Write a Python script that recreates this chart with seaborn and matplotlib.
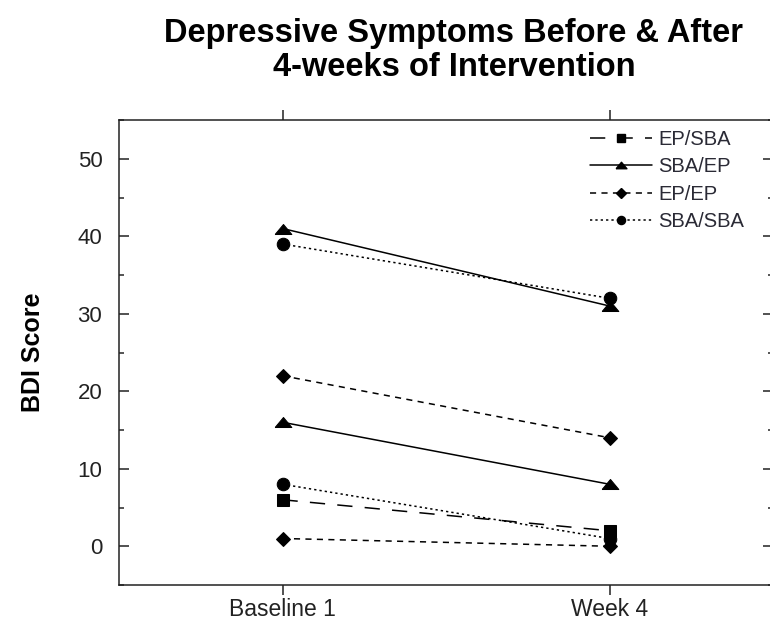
import matplotlib
matplotlib.use("Agg")
import matplotlib.pyplot as plt
from matplotlib.lines import Line2D
from matplotlib.ticker import MultipleLocator
import seaborn as sns
import pandas as pd

# ---- data ----
times = ["Baseline 1", "Week 4"]
groups = ["EP/SBA", "SBA/EP", "EP/EP", "SBA/SBA"]
ep_sba = [[6, 2]]
sba_ep = [[41, 31], [16, 8]]
ep_ep = [[22, 14], [1, 0]]
sba_sba = [[39, 32], [8, 1]]

series = {"EP/SBA": ep_sba, "SBA/EP": sba_ep, "EP/EP": ep_ep, "SBA/SBA": sba_sba}
rows = []
for g, subjects in series.items():
    for i, vals in enumerate(subjects):
        for t, v in enumerate(vals):
            rows.append({"group": g, "subject": f"{g}-{i}", "t": t, "score": v})
df = pd.DataFrame(rows)

sns.set_style("ticks")
plt.rcParams["font.family"] = ["Liberation Sans", "DejaVu Sans"]

tri = [(-1, -0.6), (1, -0.6), (0, 0.6), (-1, -0.6)]
styles = {
    "EP/SBA": dict(marker="s", markersize=9, linestyle=(0, (10, 8))),
    "SBA/EP": dict(marker=tri, markersize=12, linestyle="-"),
    "EP/EP": dict(marker="D", markersize=7.5, linestyle=(0, (4, 3.5))),
    "SBA/SBA": dict(marker="o", markersize=9, linestyle=(0, (1.5, 2))),
}

fig = plt.figure(figsize=(7.7, 6.2), dpi=100)
ax = fig.add_axes([119 / 770, 35 / 620, 654 / 770, 465 / 620])

for g in groups:
    st = styles[g]
    sns.lineplot(data=df[df.group == g], x="t", y="score", units="subject",
                 estimator=None, color="black", lw=1.1, ax=ax, legend=False,
                 marker=st["marker"], markersize=st["markersize"],
                 linestyle=st["linestyle"], markeredgecolor="black",
                 markerfacecolor="black", clip_on=False)

ax.set_xlim(-0.5, 1.5)
ax.set_ylim(-5, 55)
ax.set_xticks([0, 1])
ax.set_xticklabels(times)
ax.yaxis.set_major_locator(MultipleLocator(10))
ax.yaxis.set_minor_locator(MultipleLocator(5))
ax.set_yticks([0, 10, 20, 30, 40, 50])
ax.set_xlabel("")
ax.set_ylabel("")

for s in ax.spines.values():
    s.set_visible(True)
    s.set_linewidth(1.1)
    s.set_color("#222222")

ax.tick_params(axis="y", which="major", direction="in", length=7, width=1.1,
               left=True, right=True, labelsize=16, pad=12, colors="#222222")
ax.tick_params(axis="y", which="minor", direction="in", length=3.6, width=1.1,
               left=True, right=True)
ax.tick_params(axis="x", which="major", direction="out", length=7, width=1.1,
               top=True, bottom=True, labelsize=16.5, pad=2.5, colors="#222222")

fig.text(454 / 770, 1 - 18 / 620,
         "Depressive Symptoms Before & After\n4-weeks of Intervention",
         ha="center", va="top", fontsize=23.5, fontweight="bold",
         linespacing=1.12, color="black")
fig.text(33 / 770, 1 - 352 / 620, "BDI Score", rotation=90, ha="center",
         va="center", fontsize=18, fontweight="bold", color="black")

handles = []
for g in groups:
    st = styles[g]
    handles.append(Line2D([], [], color="black", lw=1.1, marker=st["marker"],
                          markersize=st["markersize"] * 0.65,
                          linestyle=st["linestyle"]))
fig.legend(handles, groups, loc="upper left",
           bbox_to_anchor=(590 / 770, 1 - 130 / 620), frameon=False,
           fontsize=14.5, handlelength=3.1, handletextpad=0.3,
           labelspacing=0.42, borderpad=0, borderaxespad=0,
           labelcolor="#2a2a35")

fig.savefig("out.png", dpi=100)
